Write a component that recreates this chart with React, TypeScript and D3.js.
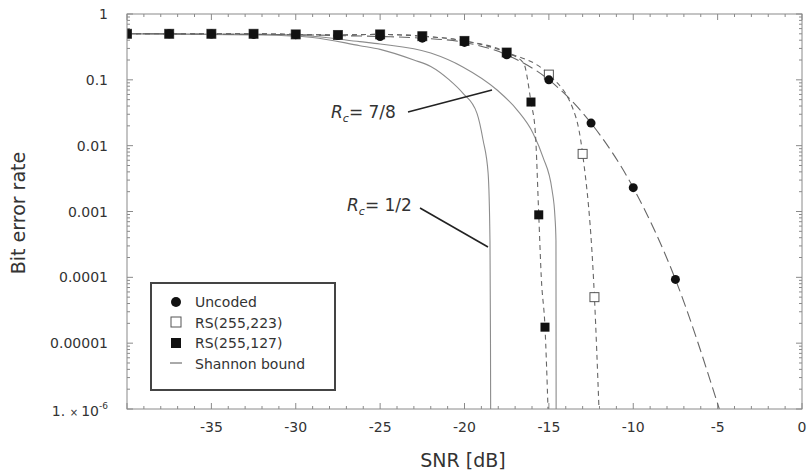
import React from "react";
import * as d3 from "d3";

// ---- data ----
const xTickValues = [-35, -30, -25, -20, -15, -10, -5, 0];
const yTickLabels = ["1", "0.1", "0.01", "0.001", "0.0001", "0.00001"];
const yTickValues = [1, 0.1, 0.01, 0.001, 0.0001, 0.00001];

const uncodedSNR = [-40, -37.5, -35, -32.5, -30, -27.5, -25, -22.5, -20, -17.5, -15, -12.5, -10, -7.5];
const uncodedBER = [0.5, 0.5, 0.495, 0.49, 0.485, 0.47, 0.455, 0.43, 0.37, 0.24, 0.1, 0.022, 0.0023, 0.000093];
const uncodedLineSNR = [-40, -37.5, -35, -32.5, -30, -27.5, -25, -22.5, -20, -17.5, -15, -12.5, -10, -7.5, -4.9];
const uncodedLineBER = [0.5, 0.5, 0.495, 0.49, 0.485, 0.47, 0.455, 0.43, 0.37, 0.24, 0.1, 0.022, 0.0023, 0.000093, 0.000001];

const rs223SNR = [-40, -37.5, -35, -32.5, -30, -27.5, -25, -22.5, -20, -17.5, -15, -13, -12.3];
const rs223BER = [0.5, 0.5, 0.5, 0.5, 0.49, 0.48, 0.49, 0.46, 0.39, 0.26, 0.12, 0.0075, 0.00005];
const rs223LineSNR = [-40, -37.5, -35, -32.5, -30, -27.5, -25, -22.5, -20, -17.5, -15, -13.4, -13, -12.3, -12.03];
const rs223LineBER = [0.5, 0.5, 0.5, 0.5, 0.49, 0.48, 0.49, 0.46, 0.39, 0.26, 0.12, 0.027, 0.0075, 0.00005, 0.000001];

const rs127SNR = [-40, -37.5, -35, -32.5, -30, -27.5, -25, -22.5, -20, -17.5, -16.06, -15.6, -15.23];
const rs127BER = [0.5, 0.5, 0.5, 0.5, 0.49, 0.48, 0.49, 0.46, 0.39, 0.26, 0.046, 0.00089, 0.0000175];
const rs127LineSNR = [-40, -37.5, -35, -32.5, -30, -27.5, -25, -22.5, -20, -17.5, -16.5, -16.06, -15.8, -15.6, -15.45, -15.23, -15.05];
const rs127LineBER = [0.5, 0.5, 0.5, 0.5, 0.49, 0.48, 0.49, 0.46, 0.39, 0.26, 0.18, 0.046, 0.0155, 0.00089, 0.0001, 0.0000175, 0.000001];

const shannonHalfSNR = [-40, -32, -29, -26.2, -25, -23, -22, -20.9, -20.1, -19.26, -18.9, -18.6, -18.49, -18.46, -18.45];
const shannonHalfBER = [0.5, 0.48, 0.44, 0.33, 0.29, 0.2, 0.16, 0.1, 0.063, 0.031, 0.0122, 0.0038, 0.00036, 0.00001, 0.000001];

const shannon78SNR = [-40, -32, -29, -26.2, -25, -22, -20.1, -18.07, -16.89, -15.94, -15.35, -14.81, -14.64, -14.58, -14.57];
const shannon78BER = [0.5, 0.49, 0.46, 0.38, 0.35, 0.255, 0.157, 0.07, 0.035, 0.0155, 0.0067, 0.0021, 0.00083, 0.00036, 0.000001];

const legendLabels = ["Uncoded", "RS(255,223)", "RS(255,127)", "Shannon bound"];

const FONT = "'DejaVu Sans', sans-serif";

export default function App() {
  const left = 127, right = 802, top = 14, bottom = 409;
  const x = d3.scaleLinear().domain([-40, 0]).range([left, right]);
  const y = d3.scaleLog().domain([1e-6, 1]).range([bottom, top]);

  const zip = (xs: number[], ys: number[]) => xs.map((v, i) => [v, ys[i]] as [number, number]);
  const line = d3
    .line<[number, number]>()
    .x((d) => x(d[0]))
    .y((d) => y(d[1]))
    .curve(d3.curveMonotoneX);

  const minorX = d3.range(-40, 1, 1);
  const minorY: number[] = [];
  for (let e = -6; e < 0; e++) for (let m = 1; m < 10; m++) minorY.push(m * Math.pow(10, e));
  minorY.push(1);

  const textColor = "#333";
  const frameColor = "#8a8a8a";

  const sq = 9;
  return (
    <svg width={811} height={474} style={{ position: "absolute", left: 0, top: 0, background: "#fff" }}>
      <defs>
        <clipPath id="plotclip">
          <rect x={left} y={top} width={right - left} height={bottom - top} />
        </clipPath>
      </defs>
      <rect x={0} y={0} width={811} height={474} fill="#fff" />

      {/* ticks */}
      <g stroke={frameColor} strokeWidth={1}>
        {minorX.map((v) => {
          const major = v % 5 === 0;
          const len = major ? 6 : 3;
          return (
            <g key={"xt" + v}>
              <line x1={x(v)} x2={x(v)} y1={bottom} y2={bottom - len} />
              <line x1={x(v)} x2={x(v)} y1={top} y2={top + len} />
            </g>
          );
        })}
        {minorY.map((v, i) => {
          const major = Math.abs(Math.log10(v) - Math.round(Math.log10(v))) < 1e-9;
          const len = major ? 6 : 3;
          return (
            <g key={"yt" + i}>
              <line x1={left} x2={left + len} y1={y(v)} y2={y(v)} />
              <line x1={right} x2={right - len} y1={y(v)} y2={y(v)} />
            </g>
          );
        })}
      </g>

      {/* lines */}
      <g clipPath="url(#plotclip)" fill="none">
        <path d={line(zip(shannonHalfSNR, shannonHalfBER)) || ""} stroke="#8c8c8c" strokeWidth={1.1} />
        <path d={line(zip(shannon78SNR, shannon78BER)) || ""} stroke="#8c8c8c" strokeWidth={1.1} />
        <path d={line(zip(rs127LineSNR, rs127LineBER)) || ""} stroke="#666" strokeWidth={1.1} strokeDasharray="5,4" />
        <path d={line(zip(rs223LineSNR, rs223LineBER)) || ""} stroke="#666" strokeWidth={1.1} strokeDasharray="5,4" />
        <path d={line(zip(uncodedLineSNR, uncodedLineBER)) || ""} stroke="#666" strokeWidth={1.1} strokeDasharray="11,5" />
      </g>

      {/* markers */}
      <g clipPath="url(#plotclip)">
        {zip(rs223SNR, rs223BER).map((d, i) => (
          <rect key={"o" + i} x={x(d[0]) - sq / 2} y={y(d[1]) - sq / 2} width={sq} height={sq} fill="#fff" stroke="#555" strokeWidth={1} />
        ))}
        {zip(uncodedSNR, uncodedBER).map((d, i) => (
          <circle key={"c" + i} cx={x(d[0])} cy={y(d[1])} r={4.5} fill="#111" />
        ))}
        {zip(rs127SNR, rs127BER).map((d, i) => (
          <rect key={"f" + i} x={x(d[0]) - sq / 2} y={y(d[1]) - sq / 2} width={sq} height={sq} fill="#111" />
        ))}
      </g>

      {/* frame */}
      <rect x={left} y={top} width={right - left} height={bottom - top} fill="none" stroke={frameColor} strokeWidth={1} />

      {/* x tick labels */}
      <g fontFamily={FONT} fontSize={14} fill={textColor} textAnchor="middle">
        {xTickValues.map((v) => (
          <text key={"xl" + v} x={x(v)} y={432}>
            {String(v)}
          </text>
        ))}
      </g>

      {/* y tick labels */}
      <g fontFamily={FONT} fontSize={14} fill={textColor} textAnchor="end">
        {yTickValues.map((v, i) => (
          <text key={"yl" + i} x={108} y={y(v) + 5}>
            {yTickLabels[i]}
          </text>
        ))}
        <text x={108} y={y(1e-6) + 7}>
          <tspan>1. </tspan>
          <tspan fontSize={10}>× </tspan>
          <tspan>10</tspan>
          <tspan fontSize={9} dy={-7}>-6</tspan>
        </text>
      </g>

      {/* axis titles */}
      <text x={463} y={467} fontFamily={FONT} fontSize={19} fill={textColor} textAnchor="middle">
        SNR [dB]
      </text>
      <text
        transform={`translate(25,${213}) rotate(-90)`}
        fontFamily={FONT}
        fontSize={19}
        fill={textColor}
        textAnchor="middle"
      >
        Bit error rate
      </text>

      {/* annotations */}
      <g fontFamily={FONT} fontSize={17} fill={textColor}>
        <text x={331} y={118}>
          <tspan fontStyle="italic">R</tspan>
          <tspan fontStyle="italic" fontSize={11} dy={4}>c</tspan>
          <tspan dy={-4}>= 7/8</tspan>
        </text>
        <text x={347} y={211}>
          <tspan fontStyle="italic">R</tspan>
          <tspan fontStyle="italic" fontSize={11} dy={4}>c</tspan>
          <tspan dy={-4}>= 1/2</tspan>
        </text>
      </g>
      <g stroke="#222" strokeWidth={1.6}>
        <line x1={408} y1={112} x2={492} y2={90} />
        <line x1={420} y1={208} x2={488} y2={247} />
      </g>

      {/* legend */}
      <g>
        <rect x={151} y={283} width={184} height={107} fill="#fff" stroke="#444" strokeWidth={2} />
        <circle cx={176} cy={302} r={5} fill="#111" />
        <rect x={171} y={317} width={10} height={10} fill="#fff" stroke="#555" strokeWidth={1} />
        <rect x={171} y={338} width={10} height={10} fill="#111" />
        <line x1={170} x2={182} y1={363} y2={363} stroke="#555" strokeWidth={1} />
        <g fontFamily={FONT} fontSize={14} fill={textColor}>
          {legendLabels.map((t, i) => (
            <text key={t} x={195} y={307 + i * 20.5}>
              {t}
            </text>
          ))}
        </g>
      </g>
    </svg>
  );
}
